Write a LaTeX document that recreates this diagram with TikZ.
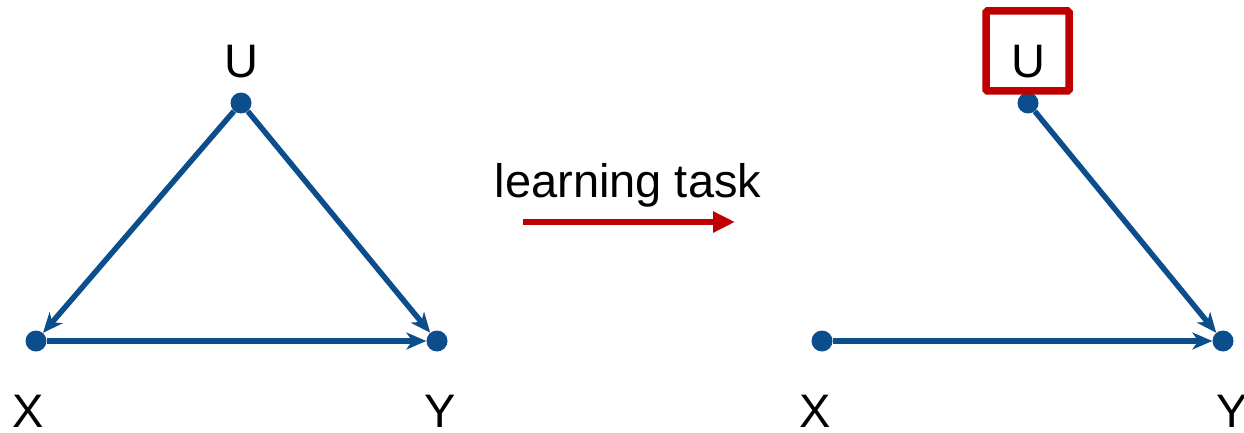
\documentclass[tikz,border=0pt]{standalone}
\usepackage{fontspec}
\setmainfont{Liberation Sans}
\usetikzlibrary{arrows.meta}
\definecolor{nodeblue}{RGB}{12,78,140}
\definecolor{taskred}{RGB}{192,0,0}
\begin{document}
\begin{tikzpicture}[x=1pt,y=-1pt,
  dot/.style={circle,fill=nodeblue,inner sep=0pt,minimum size=21pt},
  lab/.style={font=\fontsize{47}{50}\selectfont,inner sep=0pt,anchor=base},
  edge/.style={draw=nodeblue,line width=5.5pt,-{Stealth[length=20pt,width=17pt,inset=6pt]},shorten >=0pt}]
\useasboundingbox (0,0) rectangle (1244,433);
% left graph
\node[dot] (u1) at (241,103) {};
\node[dot] (x1) at (36,341) {};
\node[dot] (y1) at (437,341) {};
\node[lab] (lu1) at (241,78) {U};
\node[lab] (lx1) at (28,427) {X};
\node[lab] (ly1) at (440,427) {Y};
\draw[edge] (u1) -- (x1);
\draw[edge] (u1) -- (y1);
\draw[edge] (x1) -- (y1);
% middle
\node[lab] (task) at (628,197) {learning task};
\coordinate (a0) at (523,222);
\coordinate (a1) at (735,222);
\draw[draw=taskred,line width=6pt,-{Triangle[length=22pt,width=20pt]}] (a0) -- (a1);
% right graph
\node[dot] (u2) at (1028,103) {};
\node[dot] (x2) at (822,341) {};
\node[dot] (y2) at (1223,341) {};
\node[lab] (lu2) at (1028,78) {U};
\node[lab] (lx2) at (815,427) {X};
\node[lab] (ly2) at (1232,427) {Y};
\draw[draw=taskred,line width=7.5pt,rounded corners=1.5pt] (986,11) rectangle (1069,91);
\draw[edge] (u2) -- (y2);
\draw[edge] (x2) -- (y2);
\end{tikzpicture}
\end{document}
